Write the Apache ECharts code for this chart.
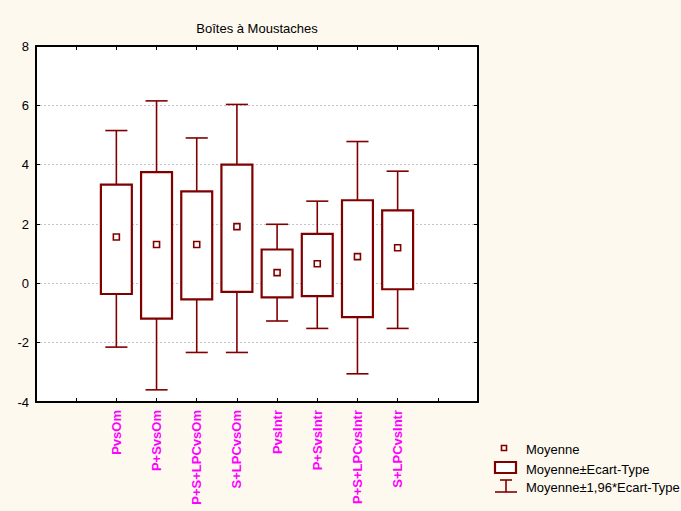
<!DOCTYPE html>
<html>
<head>
<meta charset="utf-8">
<script src="https://cdn.jsdelivr.net/npm/echarts@6/dist/echarts.min.js"></script>
<style>
html,body{margin:0;padding:0;background:#FDF9EF;}
#chart{width:681px;height:511px;}
</style>
</head>
<body>
<div id="chart"></div>
<script>
const categories = ['PvsOm','P+SvsOm','P+S+LPCvsOm','S+LPCvsOm','PvsIntr','P+SvsIntr','P+S+LPCvsIntr','S+LPCvsIntr'];
const means  = [1.56, 1.31, 1.31, 1.91, 0.36, 0.66, 0.90, 1.20];
const sdLow  = [-0.36, -1.19, -0.54, -0.29, -0.47, -0.43, -1.14, -0.20];
const sdHigh = [3.33, 3.75, 3.10, 4.00, 1.14, 1.67, 2.80, 2.46];
const ciLow  = [-2.15, -3.59, -2.33, -2.33, -1.27, -1.52, -3.05, -1.52];
const ciHigh = [5.15, 6.15, 4.90, 6.03, 1.99, 2.77, 4.78, 3.78];
const yMin = -4, yMax = 8, yStep = 2;
const titleText = 'Boîtes à Moustaches';
const legendLabels = ['Moyenne', 'Moyenne±Ecart-Type', 'Moyenne±1,96*Ecart-Type'];

const DARK = '#800000';
const FONT = '"Liberation Sans", Arial, sans-serif';
const offset = 2; // first category sits at slot 2 of an 11-slot axis

const data = categories.map((c, i) => [i + offset, means[i], sdLow[i], sdHigh[i], ciLow[i], ciHigh[i]]);

function renderItem(params, api) {
  const x = api.value(0);
  const pMean = api.coord([x, api.value(1)]);
  const pSdL = api.coord([x, api.value(2)]);
  const pSdH = api.coord([x, api.value(3)]);
  const pCiL = api.coord([x, api.value(4)]);
  const pCiH = api.coord([x, api.value(5)]);
  const unit = api.size([1, 0])[0];
  const bw = unit * 0.77;
  const cw = unit * 0.55;
  const cx = pMean[0];
  const lineStyle = {stroke: DARK, lineWidth: 1.6, fill: null};
  return {
    type: 'group',
    children: [
      {type: 'line', shape: {x1: cx, y1: pCiH[1], x2: cx, y2: pSdH[1]}, style: lineStyle},
      {type: 'line', shape: {x1: cx, y1: pSdL[1], x2: cx, y2: pCiL[1]}, style: lineStyle},
      {type: 'line', shape: {x1: cx - cw / 2, y1: pCiH[1], x2: cx + cw / 2, y2: pCiH[1]}, style: lineStyle},
      {type: 'line', shape: {x1: cx - cw / 2, y1: pCiL[1], x2: cx + cw / 2, y2: pCiL[1]}, style: lineStyle},
      {type: 'rect', shape: {x: cx - bw / 2, y: pSdH[1], width: bw, height: pSdL[1] - pSdH[1]},
        style: {fill: '#fff', stroke: DARK, lineWidth: 2.2}},
      {type: 'rect', shape: {x: cx - 3, y: pMean[1] - 3, width: 6, height: 6},
        style: {fill: '#fff', stroke: DARK, lineWidth: 1.6}}
    ]
  };
}

const chart = echarts.init(document.getElementById('chart'), null, {renderer: 'svg'});
const axisLine = {show: true, onZero: false, lineStyle: {color: '#000', width: 2}};
const axisTick = {show: true, inside: true, length: 4, lineStyle: {color: '#000', width: 1}};

chart.setOption({
  backgroundColor: '#FDF9EF',
  animation: false,
  title: {
    text: titleText, left: 252, top: 17, textAlign: 'center',
    textStyle: {fontFamily: FONT, fontSize: 13, fontWeight: 'normal', color: '#000'}
  },
  grid: {left: 36, right: 203, top: 46, bottom: 109, show: true, backgroundColor: '#fff', borderWidth: 0},
  xAxis: [
    {
      type: 'value', min: 0, max: 11, interval: 1, position: 'bottom',
      axisLine: axisLine, axisTick: axisTick, splitLine: {show: false},
      axisLabel: {
        show: true, rotate: 90, margin: 8, color: '#FF00FF', fontWeight: 'bold', fontSize: 13, fontFamily: FONT,
        formatter: v => { const i = v - offset; return (i >= 0 && i < categories.length) ? categories[i] : ''; }
      }
    },
    {
      type: 'value', min: 0, max: 11, interval: 1, position: 'top',
      axisLine: axisLine, axisTick: axisTick, splitLine: {show: false}, axisLabel: {show: false}
    }
  ],
  yAxis: [
    {
      type: 'value', min: yMin, max: yMax, interval: yStep, position: 'left',
      axisLine: axisLine, axisTick: axisTick,
      splitLine: {show: true, lineStyle: {color: '#c4c4c4', type: [2, 2], width: 1}},
      axisLabel: {color: '#000', fontSize: 13, fontFamily: FONT, margin: 7}
    },
    {
      type: 'value', min: yMin, max: yMax, interval: yStep, position: 'right',
      axisLine: axisLine, axisTick: axisTick, splitLine: {show: false}, axisLabel: {show: false}
    }
  ],
  series: [{
    type: 'custom', renderItem: renderItem, data: data,
    xAxisIndex: 0, yAxisIndex: 0,
    encode: {x: 0, y: [1, 2, 3, 4, 5]}
  }],
  graphic: [
    {type: 'rect', shape: {x: 501.5, y: 445.5, width: 5, height: 5}, style: {fill: '#fff', stroke: DARK, lineWidth: 1.6}},
    {type: 'text', x: 526, y: 449, style: {text: legendLabels[0], font: '13px ' + FONT, fill: '#000', textVerticalAlign: 'middle'}},
    {type: 'rect', shape: {x: 495, y: 462, width: 21, height: 11}, style: {fill: '#fff', stroke: DARK, lineWidth: 2.2}},
    {type: 'text', x: 526, y: 469, style: {text: legendLabels[1], font: '13px ' + FONT, fill: '#000', textVerticalAlign: 'middle'}},
    {type: 'line', shape: {x1: 500, y1: 480, x2: 512, y2: 480}, style: {stroke: DARK, lineWidth: 1.6}},
    {type: 'line', shape: {x1: 506, y1: 480, x2: 506, y2: 492}, style: {stroke: DARK, lineWidth: 1.6}},
    {type: 'line', shape: {x1: 495, y1: 492, x2: 517, y2: 492}, style: {stroke: DARK, lineWidth: 1.6}},
    {type: 'text', x: 526, y: 487, style: {text: legendLabels[2], font: '13px ' + FONT, fill: '#000', textVerticalAlign: 'middle'}}
  ]
});
</script>
</body>
</html>
